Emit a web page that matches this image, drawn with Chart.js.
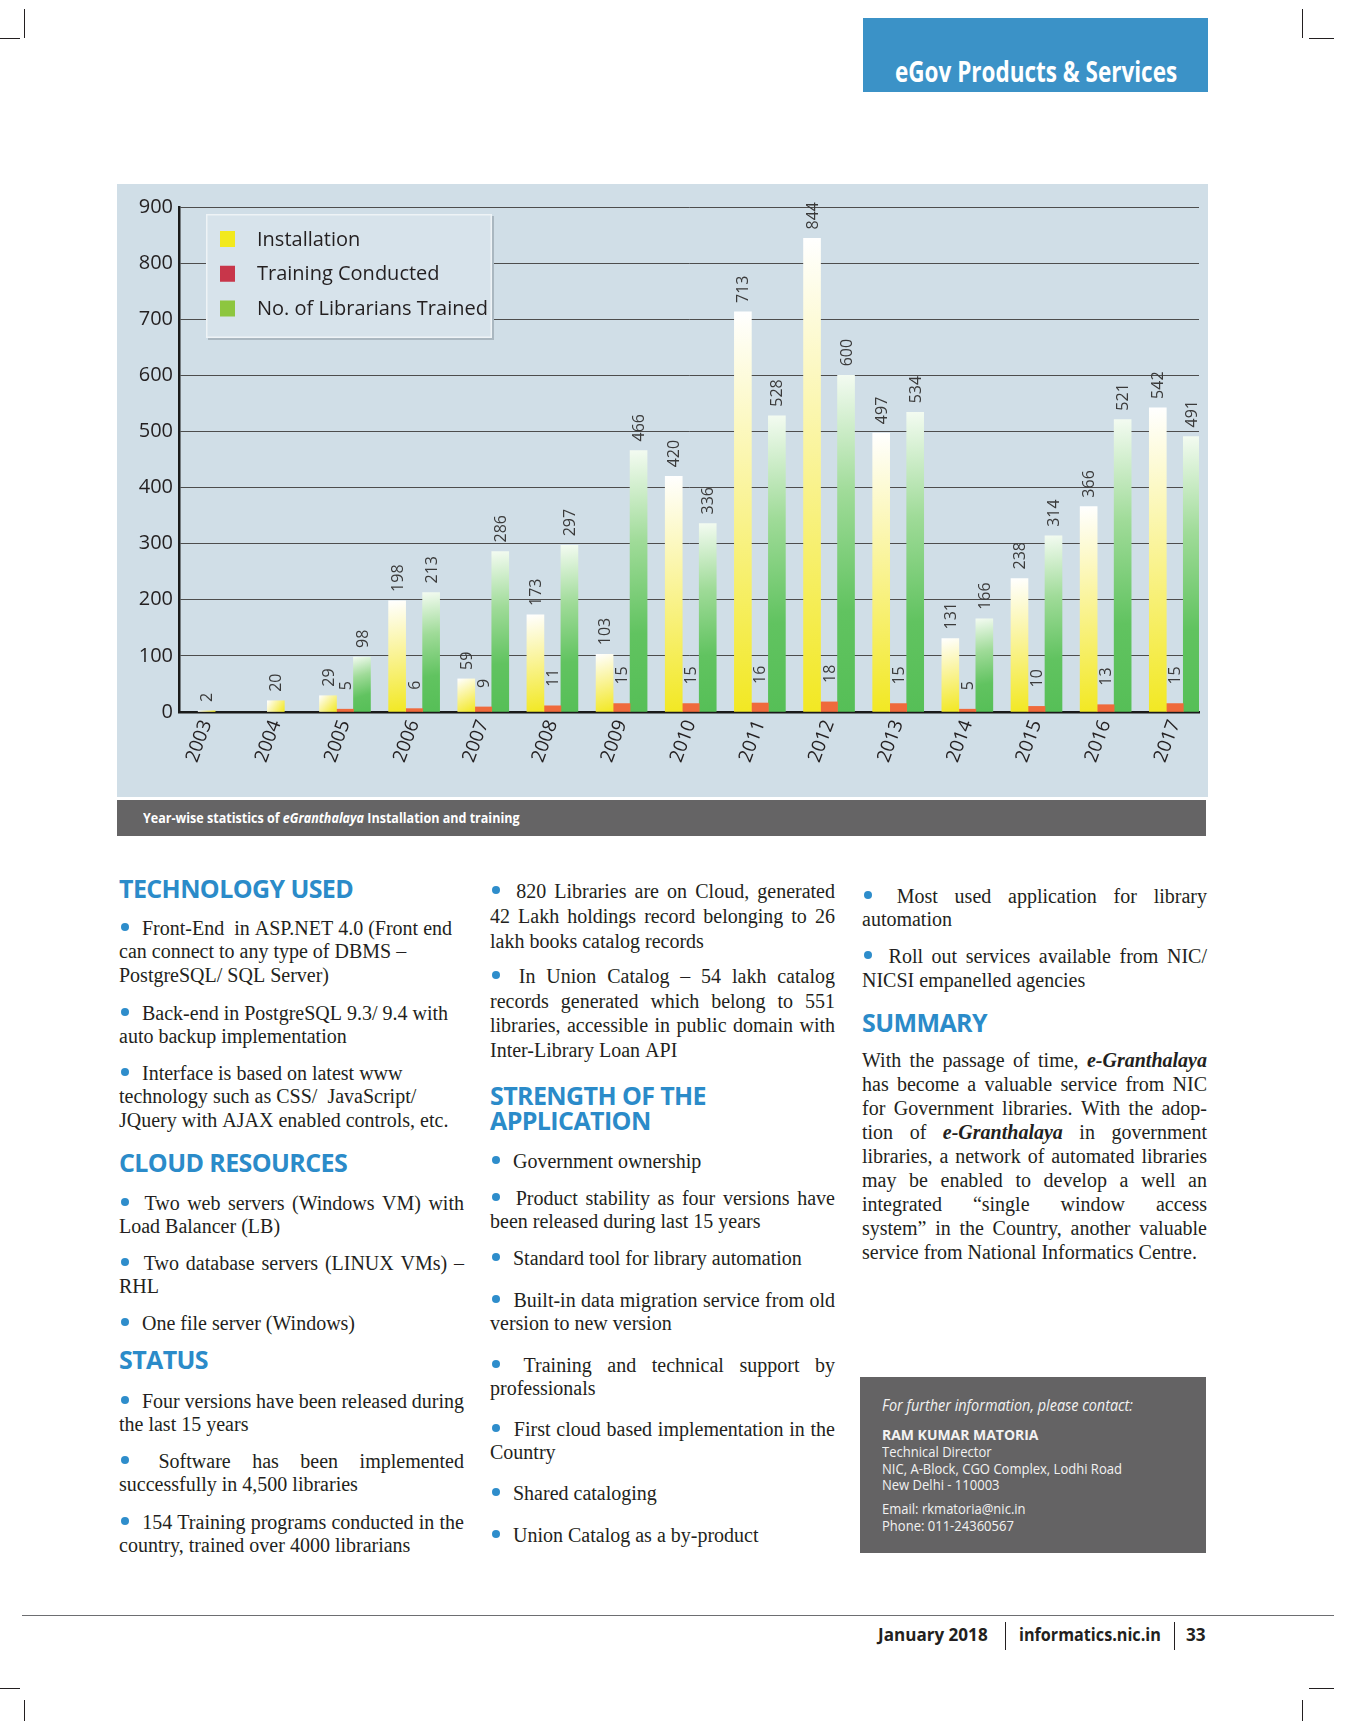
<!DOCTYPE html>
<html>
<head>
<meta charset="utf-8">
<title>eGranthalaya statistics</title>
<script src="https://cdn.jsdelivr.net/npm/chart.js@4.4.1/dist/chart.umd.min.js"></script>
<style>
  html, body { margin: 0; padding: 0; background: #fff; }
  body { width: 1346px; height: 1721px; position: relative; overflow: hidden;
         font-family: "Liberation Serif", "Times New Roman", serif; font-size: 20px; color: #231f20; }
  .line { position: absolute; background: #231f20; }
  .cond { position: absolute; white-space: nowrap; transform-origin: 0 0; font-family: "Open Sans", sans-serif; }
  #tab { position: absolute; left: 863px; top: 18px; width: 345px; height: 74px; background: #3b92c7; }
  #chartBox { position: absolute; left: 117px; top: 184px; width: 1091px; height: 613px; background: #d0dee7; }
  #caption { position: absolute; left: 117px; top: 800px; width: 1089px; height: 36px; background: #656465; }
  #contact { position: absolute; left: 860px; top: 1377px; width: 346px; height: 176px; background: #646364; }
  h3 { position: absolute; margin: 0; font-family: "Open Sans", sans-serif; font-weight: 700; font-size: 25px;
       line-height: 25px; color: #2b8bc9; letter-spacing: -0.6px; white-space: nowrap; }
  .para { position: absolute; width: 345px; }
  .row { display: flex; align-items: baseline; white-space: nowrap; }
  .dot { display: inline-block; width: 8px; height: 8px; border-radius: 50%; background: #2e8dcb;
         align-self: flex-start; margin-left: 2px; margin-right: 8px; flex: none; }
</style>
</head>
<body>

<!-- crop marks and footer rule -->
<div class="line" style="left:24px;top:9px;width:1px;height:29px"></div>
<div class="line" style="left:0;top:38px;width:20px;height:1px"></div>
<div class="line" style="left:1302px;top:9px;width:1px;height:29px"></div>
<div class="line" style="left:1309px;top:38px;width:25px;height:1px"></div>
<div class="line" style="left:0;top:1688px;width:20px;height:1px"></div>
<div class="line" style="left:24px;top:1700px;width:1px;height:21px"></div>
<div class="line" style="left:1309px;top:1688px;width:25px;height:1px"></div>
<div class="line" style="left:1302px;top:1700px;width:1px;height:21px"></div>
<div class="line" style="left:22px;top:1615px;width:1312px;height:1.3px;background:#6d6e71"></div>

<div id="tab"></div>
<div class="cond" id="tabText" style="left:895px;top:51px;font-size:28px;font-weight:700;color:#fff;line-height:40px">eGov Products &amp; Services</div>

<div id="chartBox"><canvas id="chart" width="1091" height="613"></canvas></div>
<div id="caption"></div>
<div class="cond" id="capText" style="left:143px;top:800px;font-size:13.5px;font-weight:700;color:#fff;line-height:36px">Year-wise statistics of <i>eGranthalaya</i> Installation and training</div>

<div id="contact"></div>
<div class="cond" id="contactText" style="left:882px;top:1377px;color:#f2f2f2;font-size:14px">
  <div style="position:absolute;top:17px;font-style:italic;font-size:15.5px">For further information, please contact:</div>
  <div style="position:absolute;top:47px;font-weight:700;font-size:15px">RAM KUMAR MATORIA</div>
  <div style="position:absolute;top:65px">Technical Director</div>
  <div style="position:absolute;top:82px" id="nicLine">NIC, A-Block, CGO Complex, Lodhi Road</div>
  <div style="position:absolute;top:98px">New Delhi - 110003</div>
  <div style="position:absolute;top:122px">Email: rkmatoria@nic.in</div>
  <div style="position:absolute;top:139px">Phone: 011-24360567</div>
</div>

<div class="cond" id="f1" style="left:878px;top:1618px;font-size:18px;font-weight:700;color:#231f20;line-height:32px">January 2018</div>
<div class="line" style="left:1005px;top:1622px;width:1.3px;height:28px"></div>
<div class="cond" id="f2" style="left:1019px;top:1618px;font-size:18px;font-weight:700;color:#231f20;line-height:32px">informatics.nic.in</div>
<div class="line" style="left:1174px;top:1622px;width:1.3px;height:28px"></div>
<div class="cond" id="f3" style="left:1186px;top:1618px;font-size:18px;font-weight:700;color:#231f20;line-height:32px">33</div>

<script>
// ---- chart data ----
const years = [2003, 2004, 2005, 2006, 2007, 2008, 2009, 2010,
               2011, 2012, 2013, 2014, 2015, 2016, 2017];
const installation = [2, 20, 29, 198, 59, 173, 103, 420, 713, 844, 497, 131, 238, 366, 542];
const trainingConducted = [null, null, 5, 6, 9, 11, 15, 15, 16, 18, 15, 5, 10, 13, 15];
const librariansTrained = [null, null, 98, 213, 286, 297, 466, 336, 528, 600, 534, 166, 314, 521, 491];
const yTickValues = [0, 100, 200, 300, 400, 500, 600, 700, 800, 900];

const chartFont = '"Open Sans", sans-serif';
const yellowStops = [[0, '#ffffff'], [0.45, '#faf49c'], [1, '#f2e823']];
const greenStops = [[0, '#f3fbf1'], [0.35, '#9fdb98'], [0.7, '#61c360'], [1, '#56bf57']];

const points = values => years.map((yr, i) => ({ x: yr, y: values[i] }));

// gradient per bar, uses the bar geometry from the previous layout pass
function barFill(c, stops) {
  const el = c.element;
  if (!el || !el.width || !isFinite(el.x)) return stops[stops.length - 1][1];
  const g = c.chart.ctx.createLinearGradient(el.x - el.width / 2, el.y, el.x + el.width / 2, el.base);
  stops.forEach(([o, col]) => g.addColorStop(o, col));
  return g;
}

// legend box inside the plot, drawn over the grid but under the bars
const boxLegend = {
  id: 'boxLegend',
  beforeDatasetsDraw(chart) {
    const { ctx, chartArea } = chart;
    const x = chartArea.left + 27, y = chartArea.top + 7, w = 286, h = 124;
    ctx.save();
    ctx.fillStyle = '#aab7c0';
    ctx.fillRect(x + 2, y + 2, w, h);
    ctx.fillStyle = '#d7e3eb';
    ctx.fillRect(x, y, w, h);
    ctx.strokeStyle = '#eef3f6';
    ctx.lineWidth = 1.5;
    ctx.strokeRect(x + 0.75, y + 0.75, w - 1.5, h - 1.5);
    ctx.font = '20px ' + chartFont;
    ctx.textBaseline = 'middle';
    chart.data.datasets.forEach((ds, i) => {
      const cy = y + 25 + i * 34.75;
      ctx.fillStyle = ds.legendColor;
      ctx.fillRect(x + 14, cy - 8, 15, 16);
      ctx.fillStyle = '#231f20';
      ctx.fillText(ds.label, x + 51, cy + 1);
    });
    ctx.restore();
  }
};

// vertical value labels above the bars
const barValueLabels = {
  id: 'barValueLabels',
  afterDatasetsDraw(chart) {
    const ctx = chart.ctx;
    ctx.save();
    ctx.font = '16px ' + chartFont;
    ctx.fillStyle = '#3a3a3a';
    ctx.textAlign = 'left';
    ctx.textBaseline = 'middle';
    chart.data.datasets.forEach((ds, i) => {
      chart.getDatasetMeta(i).data.forEach((bar, j) => {
        const v = ds.data[j].y;
        if (v == null) return;
        ctx.save();
        ctx.translate(bar.x + 1, bar.y - ds.labelGap);
        ctx.rotate(-Math.PI / 2);
        ctx.fillText(String(v), 0, 0);
        ctx.restore();
      });
    });
    ctx.restore();
  }
};

const chart = new Chart(document.getElementById('chart'), {
  type: 'bar',
  data: {
    datasets: [
      { label: 'Installation', data: points(installation), backgroundColor: c => barFill(c, yellowStops),
        legendColor: '#f2e91d', labelGap: 9 },
      { label: 'Training Conducted', data: points(trainingConducted), backgroundColor: '#ef6a3c',
        legendColor: '#c8364a', labelGap: 19 },
      { label: 'No. of Librarians Trained', data: points(librariansTrained), backgroundColor: c => barFill(c, greenStops),
        legendColor: '#8dc63f', labelGap: 9 }
    ]
  },
  options: {
    responsive: false,
    animation: false,
    events: [],
    layout: { padding: { left: 12, right: 9, top: 23, bottom: 0 } },
    datasets: { bar: { barThickness: 17, skipNull: true, borderWidth: 0 } },
    plugins: { legend: { display: false }, tooltip: { enabled: false } },
    scales: {
      x: {
        type: 'linear',
        min: 2002.6,
        max: 2017.35,
        offset: false,
        grid: { display: false, drawTicks: false },
        border: { display: true, color: '#1a1a1a', width: 2.5 },
        ticks: { color: '#231f20', font: { family: chartFont, size: 19 },
                 minRotation: 70, maxRotation: 70, padding: 5, autoSkip: false,
                 callback: v => String(v) },
        afterBuildTicks(s) { s.ticks = years.map(v => ({ value: v })); },
        afterFit(s) { s.height = 85; }
      },
      y: {
        min: yTickValues[0],
        max: yTickValues[yTickValues.length - 1],
        ticks: { stepSize: yTickValues[1] - yTickValues[0], color: '#231f20',
                 font: { family: chartFont, size: 20 }, padding: 6 },
        grid: { color: '#4d4d4d', lineWidth: 1, drawTicks: false },
        border: { color: '#1a1a1a', width: 2.5 },
        afterFit(s) { s.width = 50; }
      }
    }
  },
  plugins: [boxLegend, barValueLabels]
});
// second pass so the gradients can see the bar geometry
chart.update();

// ---- page text ----
const COLX = [119, 490, 862];
const page = [
  { col: 0, head: 'TECHNOLOGY USED', base: 898 },
  { col: 0, base: 935, lh: 23.5, just: false, lines: ['• Front-End&nbsp; in ASP.NET 4.0 (Front end', 'can connect to any type of DBMS –', 'PostgreSQL/ SQL Server)'] },
  { col: 0, base: 1020, lh: 23.5, just: false, lines: ['• Back-end in PostgreSQL 9.3/ 9.4 with', 'auto backup implementation'] },
  { col: 0, base: 1080, lh: 23.5, just: false, lines: ['• Interface is based on latest www', 'technology such as CSS/&nbsp; JavaScript/', 'JQuery with AJAX enabled controls, etc.'] },
  { col: 0, head: 'CLOUD RESOURCES', base: 1172 },
  { col: 0, base: 1210, lh: 23.3, just: true, lines: ['• Two web servers (Windows VM) with', 'Load Balancer (LB)'] },
  { col: 0, base: 1270, lh: 23.3, just: true, lines: ['• Two database servers (LINUX VMs) –', 'RHL'] },
  { col: 0, base: 1330, lh: 23.3, just: true, lines: ['• One file server (Windows)'] },
  { col: 0, head: 'STATUS', base: 1369 },
  { col: 0, base: 1408, lh: 23.3, just: true, lines: ['• Four versions have been released during', 'the last 15 years'] },
  { col: 0, base: 1468, lh: 23.3, just: true, lines: ['• Software has been implemented', 'successfully in 4,500 libraries'] },
  { col: 0, base: 1529, lh: 23.3, just: true, lines: ['• 154 Training programs conducted in the', 'country, trained over 4000 librarians'] },

  { col: 1, base: 898, lh: 25, just: true, lines: ['• 820 Libraries are on Cloud, generated', '42 Lakh holdings record belonging to 26', 'lakh books catalog records'] },
  { col: 1, base: 983, lh: 24.7, just: true, lines: ['• In Union Catalog – 54 lakh catalog', 'records generated which belong to 551', 'libraries, accessible in public domain with', 'Inter-Library Loan API'] },
  { col: 1, head: 'STRENGTH OF THE<br>APPLICATION', base: 1105 },
  { col: 1, base: 1168, lh: 23, just: true, lines: ['• Government ownership'] },
  { col: 1, base: 1205, lh: 23, just: true, lines: ['• Product stability as four versions have', 'been released during last 15 years'] },
  { col: 1, base: 1265, lh: 23, just: true, lines: ['• Standard tool for library automation'] },
  { col: 1, base: 1307, lh: 23, just: true, lines: ['• Built-in data migration service from old', 'version to new version'] },
  { col: 1, base: 1372, lh: 22.5, just: true, lines: ['• Training and technical support by', 'professionals'] },
  { col: 1, base: 1436, lh: 22.5, just: true, lines: ['• First cloud based implementation in the', 'Country'] },
  { col: 1, base: 1500, lh: 23, just: true, lines: ['• Shared cataloging'] },
  { col: 1, base: 1542, lh: 23, just: true, lines: ['• Union Catalog as a by-product'] },

  { col: 2, base: 903, lh: 22.5, just: true, lines: ['• Most used application for library', 'automation'] },
  { col: 2, base: 963, lh: 24, just: true, lines: ['• Roll out services available from NIC/', 'NICSI empanelled agencies'] },
  { col: 2, head: 'SUMMARY', base: 1032 },
  { col: 2, base: 1067, lh: 24, just: true, lines: [
    'With the passage of time, <b><i>e-Granthalaya</i></b>',
    'has become a valuable service from NIC',
    'for Government libraries. With the adop-',
    'tion of <b><i>e-Granthalaya</i></b> in government',
    'libraries, a network of automated libraries',
    'may be enabled to develop a well an',
    'integrated “single window access',
    'system” in the Country, another valuable',
    'service from National Informatics Centre.'] }
];

page.forEach(p => {
  if (p.head) {
    const h = document.createElement('h3');
    h.innerHTML = p.head;
    h.style.left = COLX[p.col] + 'px';
    h.style.top = (p.base - 22.2) + 'px';
    document.body.appendChild(h);
    return;
  }
  const box = document.createElement('div');
  box.className = 'para';
  const half = (p.lh - 22.1) / 2;
  box.style.left = COLX[p.col] + 'px';
  box.style.top = (p.base - half - 17.8) + 'px';
  p.lines.forEach((line, k) => {
    const row = document.createElement('div');
    row.className = 'row';
    row.style.height = p.lh + 'px';
    row.style.lineHeight = p.lh + 'px';
    const justify = p.just && k < p.lines.length - 1;
    row.style.justifyContent = justify ? 'space-between' : 'flex-start';
    row.style.columnGap = justify ? '3px' : '5px';
    let text = line;
    if (text.startsWith('• ')) {
      const d = document.createElement('span');
      d.className = 'dot';
      d.style.marginTop = (half + 5.8) + 'px';
      row.appendChild(d);
      text = text.slice(2);
    }
    text.split(' ').filter(Boolean).forEach(w => {
      const s = document.createElement('span');
      s.innerHTML = w;
      row.appendChild(s);
    });
    box.appendChild(row);
  });
  document.body.appendChild(box);
});

// squeeze the condensed sans lines to the widths of the printed page
function fitWidth(id, width) {
  const el = document.getElementById(id);
  el.style.transform = 'scaleX(' + (width / el.scrollWidth) + ')';
}
fitWidth('tabText', 282);
fitWidth('capText', 377);
fitWidth('f1', 110);
fitWidth('f2', 142);
fitWidth('f3', 20);
const nic = document.getElementById('nicLine');
document.getElementById('contactText').style.transform = 'scaleX(' + (240 / nic.scrollWidth) + ')';
</script>
</body>
</html>
